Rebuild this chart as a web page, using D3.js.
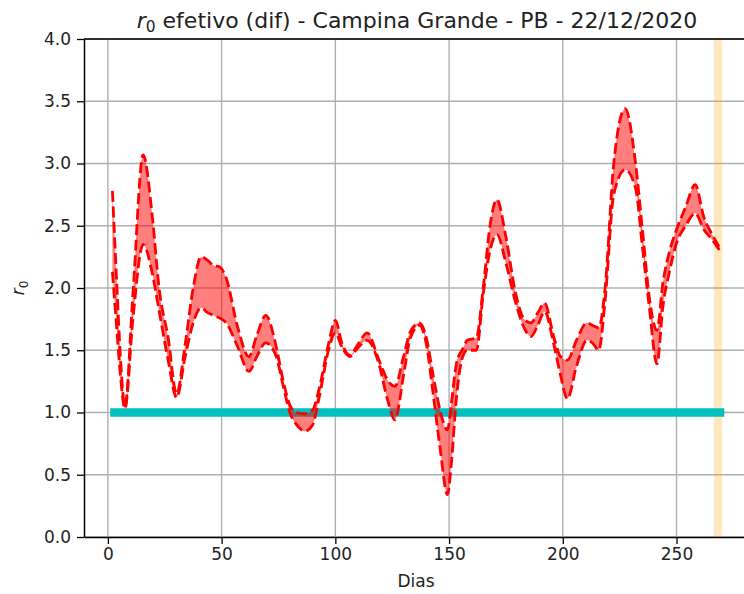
<!DOCTYPE html>
<html>
<head>
<meta charset="utf-8">
<script src="https://cdn.jsdelivr.net/npm/d3@7"></script>
<style>
  body { margin: 0; background: #fff; }
  text { font-family: "DejaVu Sans", sans-serif; }
</style>
</head>
<body>
<svg id="chart"></svg>
<script>
// r0 estimates (upper / lower bound)
const days = [2, 4, 5.5, 7.5, 11, 15.5, 19.5, 22.5, 26.5, 30.2, 34, 37.5, 41, 44, 46.5, 49, 52, 57, 62, 65.5, 69.4,
  74, 77, 80, 83, 86.6, 90, 93, 97, 100, 103, 106.4, 110, 114, 119, 123, 126.2, 130, 133, 137, 140, 143, 146, 149.3,
  151, 153.3, 156, 158, 162, 165, 168, 171, 175, 179, 183, 186, 189, 192, 196, 199, 202, 206, 210.6, 213, 215.8,
  218.6, 222.4, 227.4, 232, 235, 238, 241.4, 244, 247, 250, 254, 258.2, 262, 266, 269];
const upper = [2.78, 2.0, 1.45, 1.05, 1.95, 3.07, 2.58, 2.0, 1.6, 1.15, 1.55, 2.0, 2.25, 2.22, 2.18, 2.17, 2.08, 1.69, 1.45, 1.62, 1.78,
  1.53, 1.26, 1.06, 1.0, 0.99, 1.02, 1.2, 1.55, 1.74, 1.55, 1.46, 1.55, 1.64, 1.43, 1.26, 1.21, 1.45, 1.65, 1.72, 1.6, 1.3, 1.02, 0.86,
  1.07, 1.4, 1.51, 1.58, 1.6, 2.0, 2.5, 2.71, 2.41, 1.98, 1.75, 1.72, 1.8, 1.88, 1.61, 1.45, 1.42, 1.58, 1.72, 1.7, 1.68,
  2.0, 3.0, 3.44, 3.0, 2.47, 1.93, 1.66, 2.04, 2.3, 2.47, 2.65, 2.83, 2.57, 2.42, 2.32];
const lower = [2.13, 1.65, 1.3, 1.03, 1.75, 2.35, 2.12, 1.82, 1.42, 1.12, 1.45, 1.72, 1.84, 1.8, 1.78, 1.76, 1.72, 1.53, 1.33, 1.45, 1.56,
  1.45, 1.22, 1.0, 0.9, 0.85, 0.9, 1.13, 1.5, 1.64, 1.52, 1.45, 1.52, 1.58, 1.4, 1.1, 0.94, 1.3, 1.6, 1.7, 1.55, 1.15, 0.72, 0.34,
  0.59, 1.13, 1.45, 1.5, 1.5, 1.95, 2.3, 2.43, 2.2, 1.9, 1.68, 1.61, 1.7, 1.81, 1.55, 1.3, 1.11, 1.37, 1.58, 1.56, 1.5,
  1.9, 2.75, 2.95, 2.8, 2.33, 1.85, 1.39, 1.85, 2.14, 2.36, 2.5, 2.6, 2.47, 2.38, 2.30];

const thresholdDays = [1, 271];
const thresholdValue = 1;
const spanDays = [266.4, 270.1];

const xTicks = [0, 50, 100, 150, 200, 250];
const yTicks = [0, 0.5, 1, 1.5, 2, 2.5, 3, 3.5, 4];

const width = 744;
const height = 594;
const margin = ({ top: 39, right: -11, bottom: 57, left: 84 });

const x = d3.scaleLinear()
    .domain([-10.5, 284.5])
    .range([margin.left, width - margin.right]);

const y = d3.scaleLinear()
    .domain([0, 4])
    .range([height - margin.bottom, margin.top]);

const svg = d3.select("#chart")
    .attr("width", width)
    .attr("height", height);

// grid
svg.append("g")
    .attr("stroke", "#b0b0b0")
    .attr("stroke-width", 1.4)
    .call(g => g.selectAll(".gx").data(xTicks).join("line")
        .attr("x1", d => x(d)).attr("x2", d => x(d))
        .attr("y1", y(0)).attr("y2", y(4)))
    .call(g => g.selectAll(".gy").data(yTicks).join("line")
        .attr("x1", margin.left).attr("x2", width)
        .attr("y1", d => y(d)).attr("y2", d => y(d)));

// shaded span at the end
svg.append("rect")
    .attr("x", x(spanDays[0]))
    .attr("width", x(spanDays[1]) - x(spanDays[0]))
    .attr("y", y(4))
    .attr("height", y(0) - y(4))
    .attr("fill", "orange")
    .attr("fill-opacity", 0.25);

// r0 = 1 reference
svg.append("line")
    .attr("x1", x(thresholdDays[0]))
    .attr("x2", x(thresholdDays[1]))
    .attr("y1", y(thresholdValue))
    .attr("y2", y(thresholdValue))
    .attr("stroke", "#00bfbf")
    .attr("stroke-width", 8.3);

const pts = days.map((d, i) => ({ day: d, hi: upper[i], lo: lower[i] }));

const area = d3.area()
    .curve(d3.curveMonotoneX)
    .x(d => x(d.day))
    .y0(d => y(d.lo))
    .y1(d => y(d.hi));

svg.append("path")
    .datum(pts)
    .attr("d", area)
    .attr("fill", "red")
    .attr("fill-opacity", 0.5);

const lineHi = d3.line().curve(d3.curveMonotoneX).x(d => x(d.day)).y(d => y(d.hi));
const lineLo = d3.line().curve(d3.curveMonotoneX).x(d => x(d.day)).y(d => y(d.lo));

[lineHi, lineLo].forEach(fn => {
    svg.append("path")
        .datum(pts)
        .attr("d", fn)
        .attr("fill", "none")
        .attr("stroke", "red")
        .attr("stroke-width", 2.8)
        .attr("stroke-dasharray", "11,4.5");
});

// axes
svg.append("g")
    .attr("transform", `translate(0,${y(0)})`)
    .call(d3.axisBottom(x).tickValues(xTicks).tickSize(7).tickPadding(4).tickSizeOuter(0))
    .call(g => g.select(".domain").attr("stroke-width", 1.5))
    .call(g => g.selectAll(".tick line").attr("stroke-width", 1.3))
    .call(g => g.selectAll("text").attr("font-size", 17).attr("fill", "#222").attr("font-family", "DejaVu Sans"));

svg.append("g")
    .attr("transform", `translate(${margin.left},0)`)
    .call(d3.axisLeft(y).tickValues(yTicks).tickFormat(d3.format(".1f")).tickSize(7).tickPadding(6).tickSizeOuter(0))
    .call(g => g.select(".domain").attr("stroke-width", 1.5))
    .call(g => g.selectAll(".tick line").attr("stroke-width", 1.3))
    .call(g => g.selectAll("text").attr("font-size", 17).attr("fill", "#222").attr("font-family", "DejaVu Sans"));

// top spine
svg.append("line")
    .attr("x1", margin.left).attr("x2", width)
    .attr("y1", y(4)).attr("y2", y(4))
    .attr("stroke", "black")
    .attr("stroke-width", 1.5);

// title
const title = svg.append("text")
    .attr("x", 417)
    .attr("y", 27.5)
    .attr("text-anchor", "middle")
    .attr("font-size", 22)
    .attr("fill", "#222");
title.append("tspan").attr("font-style", "italic").text("r");
title.append("tspan").attr("font-size", 15.5).attr("dy", 4.5).text("0");
title.append("tspan").attr("dy", -4.5).text(" efetivo (dif) - Campina Grande - PB - 22/12/2020");

// axis labels
svg.append("text")
    .attr("x", 416)
    .attr("y", 587)
    .attr("text-anchor", "middle")
    .attr("font-size", 17)
    .attr("fill", "#222")
    .text("Dias");

const ylab = svg.append("text")
    .attr("transform", "translate(24,288) rotate(-90)")
    .attr("text-anchor", "middle")
    .attr("font-size", 17)
    .attr("fill", "#222");
ylab.append("tspan").attr("font-style", "italic").text("r");
ylab.append("tspan").attr("font-size", 12).attr("dy", 4).text("0");
</script>
</body>
</html>
